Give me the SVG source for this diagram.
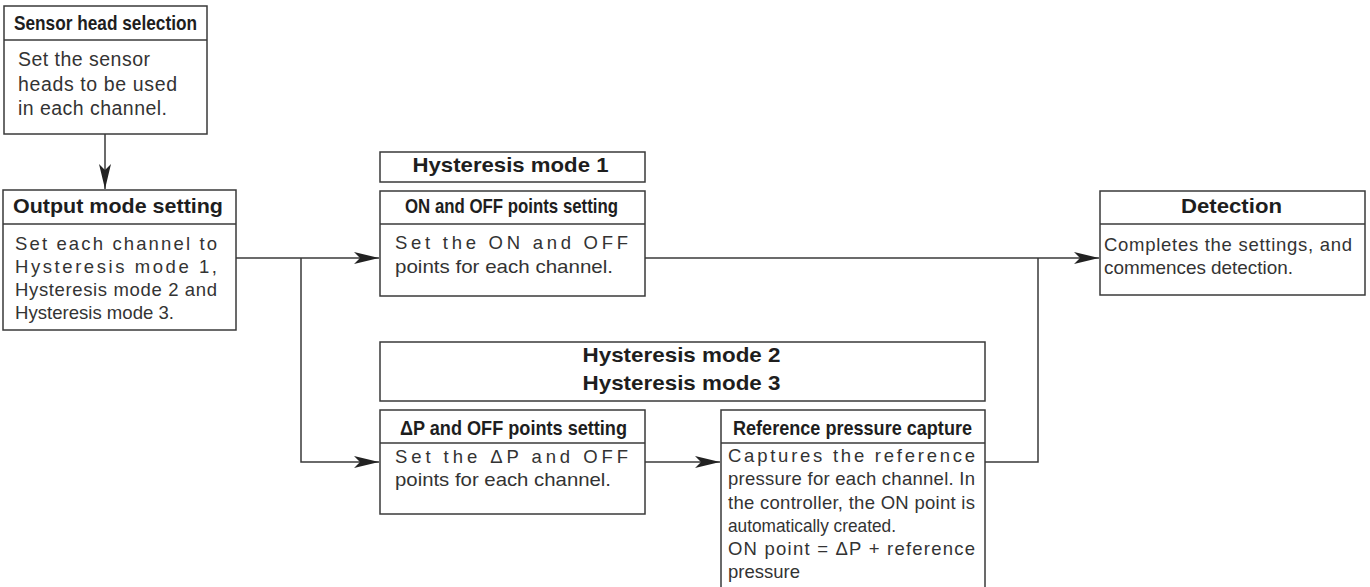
<svg xmlns="http://www.w3.org/2000/svg" width="1370" height="587" viewBox="0 0 1370 587">
<defs>
<style>
.box{fill:#fff;stroke:#3a3a3a;stroke-width:1.5}
.div{stroke:#3a3a3a;stroke-width:1.5}
.hd{font-family:"Liberation Sans",Arial,sans-serif;font-weight:bold;font-size:21px;fill:#1e1e1e}
.hc{font-family:"Liberation Sans",Arial,sans-serif;font-weight:bold;font-size:20.5px;fill:#1e1e1e}
.bd{font-family:"Liberation Sans",Arial,sans-serif;font-size:18.5px;fill:#333}
.con{fill:none;stroke:#3a3a3a;stroke-width:1.5}
</style>
<marker id="arr" markerUnits="userSpaceOnUse" markerWidth="27" markerHeight="13" refX="25" refY="6.5" orient="auto">
<path d="M0,0.5 L25,6.5 L0,12.5 L6,6.5 z" fill="#222"/>
</marker>
</defs>
<rect width="1370" height="587" fill="#fff"/>

<g id="connectors">
<line class="con" x1="105" y1="134" x2="105" y2="189" marker-end="url(#arr)"/>
<line class="con" x1="236" y1="258" x2="379" y2="258" marker-end="url(#arr)"/>
<polyline class="con" points="301,258 301,462 379,462" marker-end="url(#arr)"/>
<line class="con" x1="645" y1="462" x2="720" y2="462" marker-end="url(#arr)"/>
<line class="con" x1="645" y1="258" x2="1099" y2="258" marker-end="url(#arr)"/>
<polyline class="con" points="985,462 1038,462 1038,258"/>
</g>

<g id="sensor-head-selection">
<rect class="box" x="4" y="6" width="203" height="128"/>
<line class="div" x1="4" y1="40" x2="207" y2="40"/>
<text class="hc" x="14" y="30" textLength="183" lengthAdjust="spacingAndGlyphs">Sensor head selection</text>
<text class="bd" x="18" y="66" textLength="132" lengthAdjust="spacing" style="font-size:19.5px">Set the sensor</text>
<text class="bd" x="18" y="90.5" textLength="159" lengthAdjust="spacing" style="font-size:19.5px">heads to be used</text>
<text class="bd" x="18" y="115" textLength="149" lengthAdjust="spacing" style="font-size:19.5px">in each channel.</text>
</g>

<g id="output-mode-setting">
<rect class="box" x="3" y="190" width="233" height="140"/>
<line class="div" x1="3" y1="224" x2="236" y2="224"/>
<text class="hd" x="13" y="213" textLength="210" lengthAdjust="spacingAndGlyphs">Output mode setting</text>
<text class="bd" x="15" y="249.5" textLength="202" lengthAdjust="spacing">Set each channel to</text>
<text class="bd" x="15" y="272.5" textLength="202" lengthAdjust="spacing">Hysteresis mode 1,</text>
<text class="bd" x="15" y="295.5" textLength="202" lengthAdjust="spacing">Hysteresis mode 2 and</text>
<text class="bd" x="15" y="318.5" textLength="159" lengthAdjust="spacingAndGlyphs">Hysteresis mode 3.</text>
</g>

<g id="hysteresis-mode-1">
<rect class="box" x="380" y="152" width="265" height="30"/>
<text class="hd" x="412.5" y="172" textLength="196" lengthAdjust="spacingAndGlyphs">Hysteresis mode 1</text>
</g>

<g id="on-off-points-setting">
<rect class="box" x="380" y="191" width="265" height="105"/>
<line class="div" x1="380" y1="224" x2="645" y2="224"/>
<text class="hc" x="405" y="213" textLength="213" lengthAdjust="spacingAndGlyphs">ON and OFF points setting</text>
<text class="bd" x="395" y="249" textLength="233" lengthAdjust="spacing">Set the ON and OFF</text>
<text class="bd" x="395" y="272.5" textLength="218" lengthAdjust="spacingAndGlyphs">points for each channel.</text>
</g>

<g id="detection">
<rect class="box" x="1100" y="191" width="265" height="104"/>
<line class="div" x1="1100" y1="224" x2="1365" y2="224"/>
<text class="hd" x="1181" y="212.5" textLength="101" lengthAdjust="spacingAndGlyphs">Detection</text>
<text class="bd" x="1104" y="251" textLength="248" lengthAdjust="spacing">Completes the settings, and</text>
<text class="bd" x="1104" y="273.5" textLength="189" lengthAdjust="spacingAndGlyphs">commences detection.</text>
</g>

<g id="hysteresis-mode-2-3">
<rect class="box" x="380" y="342" width="605" height="59"/>
<text class="hd" x="582.5" y="361.5" textLength="198" lengthAdjust="spacingAndGlyphs">Hysteresis mode 2</text>
<text class="hd" x="582.5" y="390" textLength="198" lengthAdjust="spacingAndGlyphs">Hysteresis mode 3</text>
</g>

<g id="dp-off-points-setting">
<rect class="box" x="380" y="410" width="265" height="104"/>
<line class="div" x1="380" y1="443" x2="645" y2="443"/>
<text class="hc" x="400" y="435" textLength="227" lengthAdjust="spacingAndGlyphs">ΔP and OFF points setting</text>
<text class="bd" x="395" y="462.5" textLength="233" lengthAdjust="spacing">Set the ΔP and OFF</text>
<text class="bd" x="395" y="485.5" textLength="216" lengthAdjust="spacingAndGlyphs">points for each channel.</text>
</g>

<g id="reference-pressure-capture">
<rect class="box" x="721" y="410" width="264" height="190"/>
<line class="div" x1="721" y1="443" x2="985" y2="443"/>
<text class="hc" x="733" y="434.5" textLength="239" lengthAdjust="spacingAndGlyphs">Reference pressure capture</text>
<text class="bd" x="728" y="462" textLength="247" lengthAdjust="spacing">Captures the reference</text>
<text class="bd" x="728" y="485" textLength="247" lengthAdjust="spacing">pressure for each channel. In</text>
<text class="bd" x="728" y="508.5" textLength="247" lengthAdjust="spacing">the controller, the ON point is</text>
<text class="bd" x="728" y="532" textLength="168" lengthAdjust="spacingAndGlyphs">automatically created.</text>
<text class="bd" x="728" y="555" textLength="247" lengthAdjust="spacing">ON point = ΔP + reference</text>
<text class="bd" x="728" y="578">pressure</text>
</g>
</svg>
